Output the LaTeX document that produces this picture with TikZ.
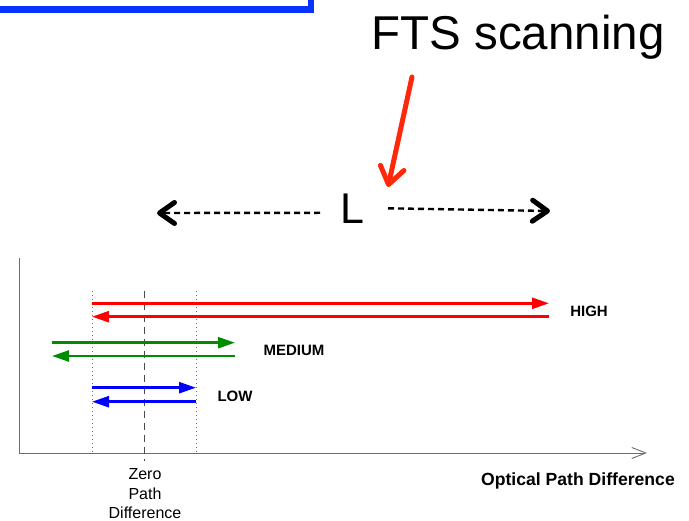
\documentclass[tikz,border=0pt]{standalone}
\usepackage{fontspec}
\setmainfont{Liberation Sans}
\usetikzlibrary{arrows.meta}
\definecolor{framebl}{RGB}{10,50,255}
\definecolor{scanred}{RGB}{255,40,10}
\definecolor{hired}{RGB}{255,0,0}
\definecolor{medgreen}{RGB}{0,140,0}
\definecolor{lowblue}{RGB}{0,0,255}
\definecolor{axisgray}{RGB}{110,110,110}
\tikzset{
  sweep/.style={line width=2.5pt, -{Triangle[length=17pt,width=11pt]}},
  rangelabel/.style={font=\bfseries\fontsize{15}{17}\selectfont, inner sep=0pt},
  lspan/.style={line width=2.4pt, dash pattern=on 6pt off 4pt,
    -{Straight Barb[length=15pt,width=21pt,line width=5pt,round]}},
  guide/.style={axisgray, line width=0.7pt, dash pattern=on 1pt off 3pt},
}
\begin{document}
\begin{tikzpicture}[x=1pt,y=-1pt]
\useasboundingbox (0,0) rectangle (689,521);

% corner of the blue frame
\draw[framebl, line width=6.5pt, line join=miter] (-5,9.3) -- (311,9.3) -- (311,-5);

% title and the scanning pointer
\node[font=\fontsize{47.5}{50}\selectfont, anchor=base, inner sep=0pt] (fts) at (518,50) {FTS scanning};
\coordinate (ptrtail) at (412,77);
\coordinate (ptrtip) at (388,187);
\draw[scanred, line width=5pt, line cap=round,
  -{Straight Barb[length=17pt,width=24pt,line width=5pt,round]}] (ptrtail) -- (ptrtip);

% scan length L
\node[font=\fontsize{43}{45}\selectfont, anchor=base, inner sep=0pt] (L) at (352,224) {L};
\coordinate (lleftstart) at (320,212.8);
\coordinate (lleftend) at (157,213);
\coordinate (lrightstart) at (388,208.3);
\coordinate (lrightend) at (550,211);
\draw[lspan] (lleftstart) -- (lleftend);
\draw[lspan] (lrightstart) -- (lrightend);

% axes
\coordinate (ytop) at (19,258);
\coordinate (origin) at (19,453);
\coordinate (xend) at (647,453);
\draw[axisgray, line width=0.9pt, -{Straight Barb[length=14pt,width=11pt,line width=0.9pt]}]
  (ytop) -- (origin) -- (xend);

% zero path difference and the low-range limits
\draw[guide] (92,291) -- (92,453);
\draw[guide] (196,291) -- (196,453);
\draw[black!70, line width=0.7pt, dash pattern=on 7pt off 5pt] (144.5,291) -- (144.5,461);

% HIGH range
\coordinate (hiL) at (92,303.3);
\coordinate (hiR) at (549,303.3);
\coordinate (hiL2) at (92,316.7);
\coordinate (hiR2) at (549,316.7);
\draw[sweep, hired] (hiL) -- (hiR);
\draw[sweep, hired] (hiR2) -- (hiL2);
\node[rangelabel] (high) at (589,311.7) {HIGH};

% MEDIUM range
\coordinate (meL) at (52,342.7);
\coordinate (meR) at (235,342.7);
\coordinate (meL2) at (52,356);
\coordinate (meR2) at (235,356);
\draw[sweep, medgreen] (meL) -- (meR);
\draw[sweep, medgreen] (meR2) -- (meL2);
\node[rangelabel] (medium) at (294,350.5) {MEDIUM};

% LOW range
\coordinate (loL) at (92,387.7);
\coordinate (loR) at (196,387.7);
\coordinate (loL2) at (92,401.7);
\coordinate (loR2) at (196,401.7);
\draw[sweep, lowblue] (loL) -- (loR);
\draw[sweep, lowblue] (loR2) -- (loL2);
\node[rangelabel] (low) at (235,396) {LOW};

% axis captions
\node[font=\bfseries\fontsize{17.6}{20}\selectfont, inner sep=0pt] (opd) at (578,481) {Optical Path Difference};
\node[font=\fontsize{16}{19.5}\selectfont, align=center, inner sep=0pt] (zpd) at (145,494) {Zero\\Path\\Difference};
\end{tikzpicture}
\end{document}
